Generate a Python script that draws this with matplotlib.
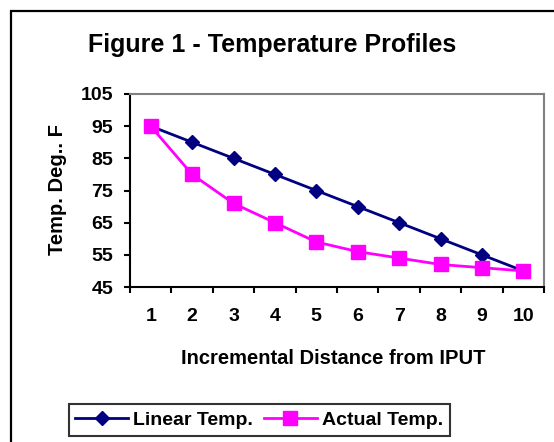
import matplotlib.pyplot as plt
from matplotlib.patches import Rectangle

plt.rcParams['font.family'] = ['Liberation Sans', 'DejaVu Sans']
plt.rcParams['font.weight'] = 'bold'

positions = [1, 2, 3, 4, 5, 6, 7, 8, 9, 10]
linear_temp = [95, 90, 85, 80, 75, 70, 65, 60, 55, 50]
actual_temp = [95, 80, 71, 65, 59, 56, 54, 52, 51, 50]
y_ticks = [45, 55, 65, 75, 85, 95, 105]

fig = plt.figure(figsize=(5.54, 4.42), dpi=100)

# outer chart border (right/bottom edges run off the image)
fig.patches.append(Rectangle((11 / 554, -0.05), 1.0, 1 - 11 / 442 + 0.05,
                             transform=fig.transFigure, fill=False,
                             edgecolor='black', linewidth=1.6))

ax = fig.add_axes([130 / 554, 1 - 287 / 442, 414 / 554, 193 / 442])

ax.plot(positions, linear_temp, color='#000080', marker='D', markersize=7.5,
        linewidth=2, label='Linear Temp.')
ax.plot(positions, actual_temp, color='#FF00FF', marker='s', markersize=10,
        linewidth=2, label='Actual Temp.')

ax.set_xlim(0.5, 10.5)
ax.set_ylim(45, 105)
ax.set_yticks(y_ticks)
ax.set_xticks(positions)
ax.set_xticks([p + 0.5 for p in [0] + positions], minor=True)
ax.tick_params(axis='x', which='major', length=0, pad=15, labelsize=14)
ax.tick_params(axis='x', which='minor', length=4, width=1.5, direction='out')
ax.tick_params(axis='y', length=4, width=1.5, direction='out', pad=8, labelsize=14)

for side in ['left', 'bottom']:
    ax.spines[side].set_color('black')
    ax.spines[side].set_linewidth(1.5)
for side in ['top', 'right']:
    ax.spines[side].set_color('#808080')
    ax.spines[side].set_linewidth(1.5)

ax.set_xlabel('Incremental Distance from IPUT', fontsize=14.5, fontweight='bold')
ax.set_ylabel('Temp. Deg.. F', fontsize=14.5, fontweight='bold')
ax.xaxis.set_label_coords(0.49, -0.368)
ax.xaxis.label.set_va('center')
ax.yaxis.set_label_coords(-0.174, 0.503)
ax.yaxis.label.set_va('center')

fig.text(272 / 554, 1 - 45 / 442, 'Figure 1 - Temperature Profiles',
         fontsize=18, fontweight='bold', ha='center', va='center')

leg = fig.legend(loc='center', bbox_to_anchor=(259 / 554, 1 - 420 / 442),
                 ncol=2, frameon=True, fancybox=False, edgecolor='black',
                 fontsize=14, handlelength=2.7, columnspacing=0.6,
                 handletextpad=0.25, borderpad=0.35, borderaxespad=0)
leg.get_frame().set_linewidth(1.5)
for t in leg.get_texts():
    t.set_fontweight('bold')

fig.savefig('out.png', dpi=100)
